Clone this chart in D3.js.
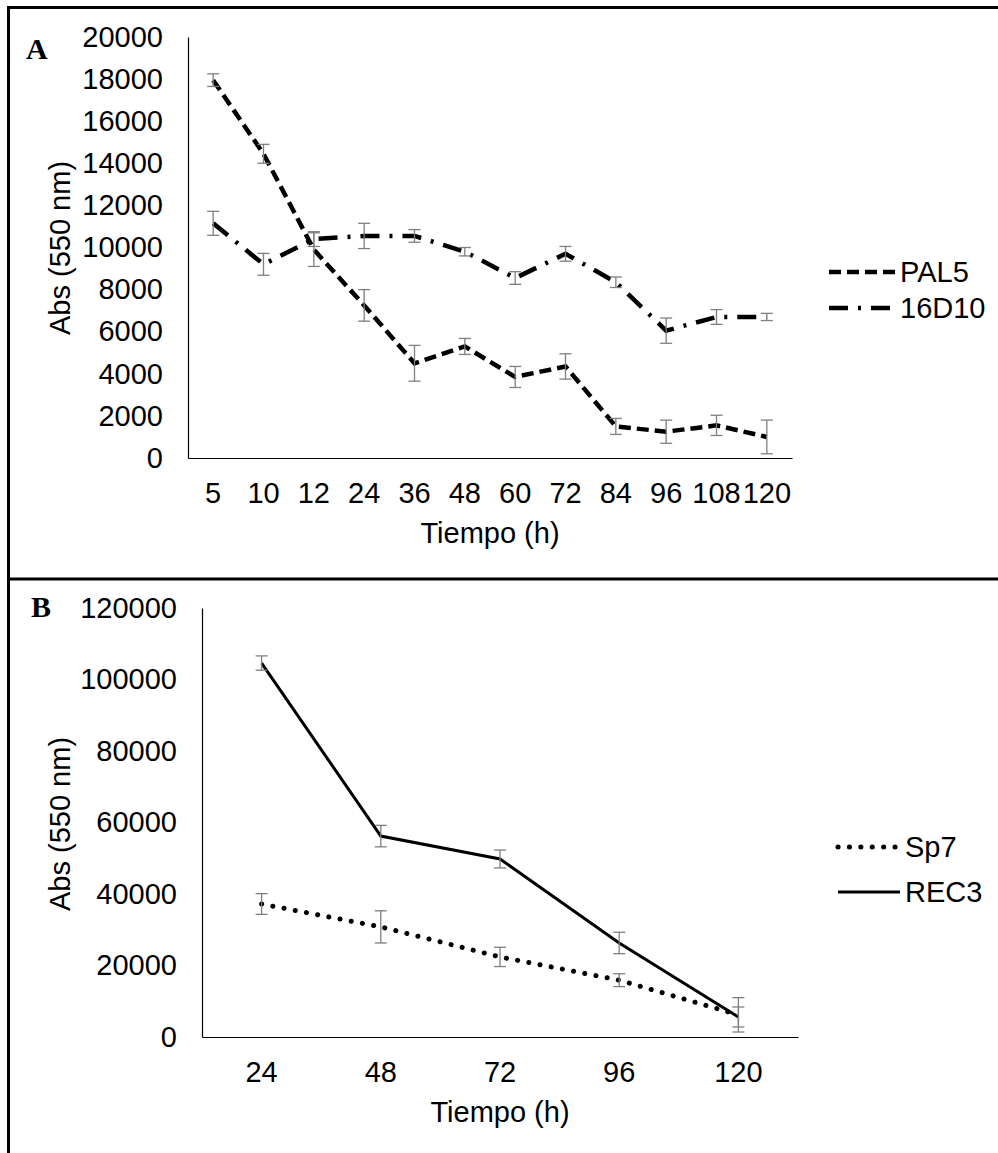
<!DOCTYPE html>
<html>
<head>
<meta charset="utf-8">
<script src="https://cdn.jsdelivr.net/npm/d3@7/dist/d3.min.js"></script>
<style>
    body { margin: 0; background: #fff; }
    text { font-family: "Liberation Sans", Arial, sans-serif; fill: #000; }
</style>
</head>
<body>
<div id="chart"></div>
<script>
// panel A data
var hoursA = ['5', '10', '12', '24', '36', '48', '60', '72', '84', '96', '108', '120'];
var pal5 = [17950, 14450, 9900, 7250, 4500, 5300, 3850, 4350, 1500, 1250, 1550, 1000];
var pal5Err = [300, 450, 800, 750, 850, 380, 500, 600, 380, 550, 480, 800];
var d16 = [11150, 9200, 10400, 10550, 10550, 9800, 8550, 9700, 8350, 6050, 6700, 6700];
var d16Err = [570, 520, 350, 600, 300, 200, 300, 350, 250, 600, 350, 170];
var yTicksA = [0, 2000, 4000, 6000, 8000, 10000, 12000, 14000, 16000, 18000, 20000];

// panel B data
var hoursB = ['24', '48', '72', '96', '120'];
var sp7 = [37200, 30800, 22400, 15900, 6200];
var sp7Err = [2900, 4500, 2700, 1800, 4800];
var rec3 = [104600, 56200, 49800, 26300, 5600];
var rec3Err = [2000, 3000, 2500, 3000, 2800];
var yTicksB = [0, 20000, 40000, 60000, 80000, 100000, 120000];

var fontSize = '29px';

var svg = d3.select('#chart')
    .append('svg')
    .attr('width', 998)
    .attr('height', 1153);

// frame lines
svg.append('line').attr('x1', 7).attr('x2', 998).attr('y1', 7.5).attr('y2', 7.5)
    .attr('stroke', '#000').attr('stroke-width', 3);
svg.append('line').attr('x1', 7).attr('x2', 998).attr('y1', 579).attr('y2', 579)
    .attr('stroke', '#000').attr('stroke-width', 3);
svg.append('line').attr('x1', 8.5).attr('x2', 8.5).attr('y1', 6).attr('y2', 1153)
    .attr('stroke', '#000').attr('stroke-width', 3);

function drawPanel(p) {
    var x = d3.scaleBand().domain(p.cats).range([p.left, p.right]);
    var y = d3.scaleLinear().domain([0, p.max]).range([p.bottom, p.top]);
    var g = svg.append('g');

    var yAxis = g.append('g')
        .attr('transform', 'translate(' + p.left + ',0)')
        .call(d3.axisLeft(y).tickValues(p.ticks).tickFormat(d3.format('d'))
            .tickSize(0).tickSizeOuter(0).tickPadding(25));
    var xAxis = g.append('g')
        .attr('transform', 'translate(0,' + p.bottom + ')')
        .call(d3.axisBottom(x).tickSize(0).tickSizeOuter(0).tickPadding(24));
    [yAxis, xAxis].forEach(function(a) {
        a.select('.domain').attr('stroke', '#000').attr('stroke-width', 1.2);
        a.selectAll('text')
            .style('font-family', '"Liberation Sans", Arial, sans-serif')
            .style('font-size', fontSize)
            .attr('fill', '#000');
    });

    g.append('text')
        .attr('x', (p.left + p.right) / 2)
        .attr('y', p.bottom + 85)
        .attr('text-anchor', 'middle')
        .style('font-size', fontSize)
        .text('Tiempo (h)');
    g.append('text')
        .attr('transform', 'translate(70,' + p.titleY + ') rotate(-90)')
        .attr('text-anchor', 'middle')
        .style('font-size', fontSize)
        .text('Abs (550 nm)');
    g.append('text')
        .attr('x', p.labelX)
        .attr('y', p.labelY)
        .style('font-family', '"Liberation Serif", "Times New Roman", serif')
        .style('font-weight', 'bold')
        .style('font-size', '30px')
        .text(p.label);

    var cx = function(i) { return x(p.cats[i]) + x.bandwidth() / 2; };
    var line = d3.line()
        .x(function(d, i) { return cx(i); })
        .y(function(d) { return y(d); });

    p.series.forEach(function(s, k) {
        g.append('path')
            .datum(s.values)
            .attr('d', line)
            .attr('fill', 'none')
            .attr('stroke', '#000')
            .attr('stroke-width', s.width)
            .attr('stroke-dasharray', s.dash)
            .attr('stroke-linecap', s.cap);

        // error bars
        var eb = g.append('g').attr('stroke', '#7f7f7f').attr('stroke-width', 1.3);
        s.values.forEach(function(v, i) {
            var hi = y(v + s.err[i]), lo = y(v - s.err[i]), c = cx(i);
            eb.append('line').attr('x1', c).attr('x2', c).attr('y1', hi).attr('y2', lo);
            eb.append('line').attr('x1', c - 6).attr('x2', c + 6).attr('y1', hi).attr('y2', hi);
            eb.append('line').attr('x1', c - 6).attr('x2', c + 6).attr('y1', lo).attr('y2', lo);
        });

        // legend
        var ly = p.legendY + k * p.legendGap;
        g.append('line')
            .attr('x1', p.legendX1).attr('x2', p.legendX2)
            .attr('y1', ly).attr('y2', ly)
            .attr('stroke', '#000')
            .attr('stroke-width', s.width)
            .attr('stroke-dasharray', s.dash)
            .attr('stroke-linecap', s.cap);
        g.append('text')
            .attr('x', p.legendX2 + 5)
            .attr('y', ly)
            .attr('dy', '0.35em')
            .style('font-size', fontSize)
            .text(s.name);
    });
}

drawPanel({
    cats: hoursA, ticks: yTicksA, max: 20000,
    left: 188, right: 792, top: 37, bottom: 458,
    titleY: 248, label: 'A', labelX: 26, labelY: 59,
    legendX1: 829, legendX2: 895, legendY: 272, legendGap: 36,
    series: [
        { name: 'PAL5', values: pal5, err: pal5Err, width: 4.5, dash: '12 6', cap: 'butt' },
        { name: '16D10', values: d16, err: d16Err, width: 4.5, dash: '19 10 3 10', cap: 'butt' }
    ]
});

drawPanel({
    cats: hoursB, ticks: yTicksB, max: 120000,
    left: 202, right: 798, top: 608, bottom: 1037,
    titleY: 824, label: 'B', labelX: 31, labelY: 617,
    legendX1: 838, legendX2: 900, legendY: 847, legendGap: 45,
    series: [
        { name: 'Sp7', values: sp7, err: sp7Err, width: 5, dash: '0.1 11.3', cap: 'round' },
        { name: 'REC3', values: rec3, err: rec3Err, width: 3, dash: null, cap: 'butt' }
    ]
});
</script>
</body>
</html>
